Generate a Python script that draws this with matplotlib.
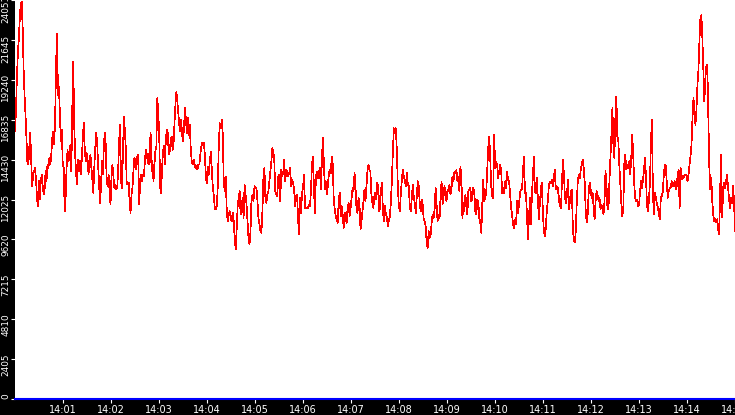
import matplotlib
matplotlib.use('Agg')
import matplotlib.pyplot as plt
import matplotlib.transforms as mtransforms
import numpy as np

# samples, in four consecutive stretches (seconds after 14:00:00)
seg_start = [0.0, 231.25, 456.25, 681.25]
seg_end = [230.4, 455.4, 680.9, 900.0]

seg1 = [16130, 17330, 19430, 20830, 21730, 22930, 23830, 23930, 22430, 19930, 18330, 17130,
        15630, 14230, 14130, 15230, 16030, 14330, 12830, 13530, 13730, 13930, 13230, 12130,
        11630, 13130, 12030, 13130, 13530, 12830, 12330, 12630, 13730, 13130, 14130, 13930,
        14530, 14130, 14730, 15730, 16130, 15330, 16830, 20130, 22030, 18330, 18830, 17130,
        15530, 16230, 14130, 13930, 11330, 12130, 13930, 15030, 14330, 14730, 15330, 13730,
        17530, 20330, 16530, 14730, 13530, 12930, 14430, 13730, 14330, 13530, 14530, 15730,
        16630, 15130, 14330, 14830, 14430, 13530, 14330, 14730, 13930, 13230, 12430, 13930,
        15130, 16030, 15530, 14130, 12930, 11830, 12730, 14330, 13530, 15230, 16030, 15330,
        13130, 12830, 13530, 12530, 11730, 13330, 14130, 13430, 12730, 12930, 12630, 12730,
        13730, 15530, 16530, 13130, 12730, 14730, 17030, 16230, 15130, 12930, 12930, 13030,
        11930, 11230, 12330, 12730, 13730, 14530, 14330, 13830, 14630, 14730, 11730, 12930,
        13530, 13130, 13530, 13430, 14330, 15030, 14730, 14330, 14130, 15130, 16030, 13730,
        14330, 13130, 14130, 14930, 15230, 18130, 17330, 15930, 12730, 12430, 13930, 14930,
        15230, 14130, 15730, 16230, 16030, 14730, 14930, 15530, 15830, 15030, 15330, 16630,
        17730, 18530, 17930, 17230, 16530, 16130, 16830, 15930, 15530, 16430, 17530, 16830,
        16030, 16930, 15930, 16530, 15130, 14330, 14130, 14430, 14130, 13930, 14030, 13830,
        14130, 14130]

seg2 = [14520, 15120, 15420, 15320, 15420, 14620, 13320, 13020, 14020, 13520, 14420, 14920,
        13720, 12720, 12220, 11420, 11420, 11620, 12920, 15420, 16620, 16320, 16820, 15920,
        13020, 12520, 13420, 11320, 10720, 11120, 11320, 10920, 10720, 11220, 10720, 9720,
        9020, 10220, 11620, 12120, 12520, 11120, 11520, 12120, 10920, 12920, 12320, 11720,
        10720, 9620, 9320, 10120, 12120, 12320, 11920, 12820, 12720, 12720, 11920, 10920,
        10520, 10120, 10020, 11320, 13320, 13920, 12120, 11820, 12320, 12520, 13120, 13720,
        14320, 15120, 14920, 14320, 12520, 12320, 12220, 13420, 13520, 11920, 13820, 13420,
        13620, 14420, 13120, 13820, 13720, 13420, 13620, 13920, 12820, 13220, 13020, 12620,
        11620, 12220, 12320, 10820, 9920, 12120, 11220, 12420, 12720, 13520, 11520, 11520,
        11520, 11520, 11720, 11620, 12520, 14120, 14620, 12720, 11220, 13420, 13720, 13320,
        13620, 13920, 12620, 14320, 15720, 14320, 12620, 13120, 12320, 12820, 13520, 13820,
        13620, 14620, 14120, 12020, 11420, 11020, 10820, 10620, 11920, 12420, 11020, 11620,
        11120, 10320, 11220, 10920, 10620, 11520, 11820, 11020, 11520, 12120, 12720, 12520,
        13620, 12720, 11420, 11220, 12120, 11720, 10220, 10720, 11320, 11920, 12620, 11920,
        12820, 13720, 14120, 13820, 13720, 12320, 11820, 11520, 12220, 12420, 12020, 13020,
        12720, 11320]

seg3 = [11520, 12620, 13020, 11220, 10720, 11620, 11120, 10920, 10420, 10820, 11020, 11920,
        13220, 15020, 16320, 16020, 16320, 14920, 12720, 11620, 11320, 12420, 13220, 13820,
        13420, 13120, 12820, 13620, 12920, 12820, 11620, 11320, 12120, 12920, 12220, 11820,
        11220, 12120, 13120, 12820, 11820, 11320, 12020, 11720, 10820, 10720, 10420, 9420,
        9120, 10120, 9720, 9920, 10620, 11120, 10920, 11420, 12720, 11720, 10720, 11120,
        10920, 12220, 13120, 11720, 12420, 12820, 12120, 11920, 12620, 12520, 12920, 12320,
        12720, 13420, 13120, 13720, 13620, 13820, 13120, 13420, 12520, 14020, 13320, 10920,
        11820, 11320, 12320, 11720, 11120, 12520, 12620, 12720, 11920, 12120, 12720, 12420,
        11320, 11120, 12020, 11920, 10920, 10620, 10020, 11720, 13220, 11920, 12120, 12520,
        13820, 15120, 15820, 14520, 12820, 12220, 12120, 15920, 13920, 14320, 14120, 13320,
        13720, 14120, 13820, 12420, 12720, 12420, 13120, 12720, 13720, 13220, 13120, 12420,
        11520, 11120, 10520, 10320, 10820, 10520, 11920, 11220, 11720, 12420, 12620, 12620,
        13720, 14620, 12420, 12420, 11120, 9620, 10920, 12120, 10520, 12320, 13520, 14620,
        12520, 12420, 13320, 12020, 10820, 11720, 12720, 13020, 11320, 10120, 9820, 10320,
        11320, 11920, 12820, 13120, 13020, 13220, 12820, 13320, 13820, 12620, 12820, 12720,
        12220, 11620]

seg4 = [11930, 11530, 13130, 14430, 13530, 12130, 11830, 12230, 13230, 11430, 11930, 12530,
        12630, 10330, 9530, 9430, 10130, 11930, 13130, 13530, 13330, 13830, 14130, 14430,
        13930, 13030, 11330, 10630, 11130, 12430, 13030, 12630, 12130, 12430, 11530, 10830,
        11930, 12530, 12330, 11930, 12130, 11430, 11730, 11430, 11130, 11930, 13730, 12930,
        11530, 11430, 13130, 14530, 15930, 17530, 15330, 14530, 16930, 18230, 15830, 15530,
        14130, 12930, 11830, 11030, 11430, 14130, 14730, 13830, 14130, 13930, 14330, 13530,
        14430, 15930, 14830, 13030, 12130, 11930, 12030, 11630, 11730, 12530, 13130, 12730,
        13230, 13830, 14530, 13330, 11630, 11330, 12030, 13130, 15530, 16830, 12330, 11130,
        12430, 12130, 11730, 11530, 11130, 10830, 12130, 12230, 12530, 13530, 14130, 14030,
        13130, 12130, 12530, 12730, 12730, 13130, 12830, 12930, 13130, 12630, 12830, 13530,
        13830, 11530, 13930, 13230, 13430, 13330, 13530, 13530, 13430, 13130, 13530, 14130,
        14630, 15330, 16930, 18130, 17530, 16530, 17430, 18930, 19830, 21530, 22930, 23130,
        21730, 19930, 17930, 19330, 20030, 20130, 17130, 14030, 12630, 13330, 11930, 11130,
        10730, 10830, 10630, 10830, 10230, 9930, 12630, 14730, 10930, 12530, 13030, 12730,
        13130, 13530, 12730, 12030, 11530, 12130, 11830, 12830, 11930, 10130]

segments = [seg1, seg2, seg3, seg4]

ytick_values = [0, 2405, 4810, 7215, 9620, 12025, 14430, 16835, 19240, 21645, 24051]
ytick_labels = ['0', '2405', '4810', '7215', '9620', '12025', '14430', '16835', '19240', '21645', '24051']
xtick_minutes = list(range(1, 16))
xtick_labels = ['14:%02d' % m for m in xtick_minutes]

times = []
values = []
for s, e, seg in zip(seg_start, seg_end, segments):
    times.extend(np.linspace(s, e, len(seg)))
    values.extend(seg)

W, H = 735, 415
fig = plt.figure(figsize=(W / 100, H / 100), dpi=100, facecolor='black')
ax = fig.add_axes([15 / W, 16 / H, 720 / W, 399 / H])
ax.set_facecolor('white')

ax.plot(times, values, color='#ff0000', lw=0.5, antialiased=False)

ax.set_xlim(0, 900)
ax.set_ylim(0, 24051)

for side in ['top', 'right', 'left']:
    ax.spines[side].set_visible(False)
ax.spines['bottom'].set_color('#0000ff')
ax.spines['bottom'].set_linewidth(1.5)

ax.set_xticks([m * 60 for m in xtick_minutes])
ax.set_xticklabels(xtick_labels)
ax.tick_params(axis='x', colors='white', labelcolor='white', length=3, width=0.8,
               pad=1.5, labelsize=7)

ax.set_yticks(ytick_values)
ax.tick_params(axis='y', colors='white', length=3, width=0.8, labelleft=False)

# rotated y labels, top end a few pixels above the tick (top one runs off the edge, as in the source)
trans = mtransforms.blended_transform_factory(fig.transFigure, ax.transData) + \
    mtransforms.ScaledTranslation(0, 5.5 / 100, fig.dpi_scale_trans)
for val, lab in zip(ytick_values, ytick_labels):
    ax.text(5.8 / W, val, lab, transform=trans, rotation=90, rotation_mode='anchor',
            ha='right', va='center', color='white', fontsize=6.4, clip_on=False)

fig.savefig('out.png', dpi=100, facecolor='black')
